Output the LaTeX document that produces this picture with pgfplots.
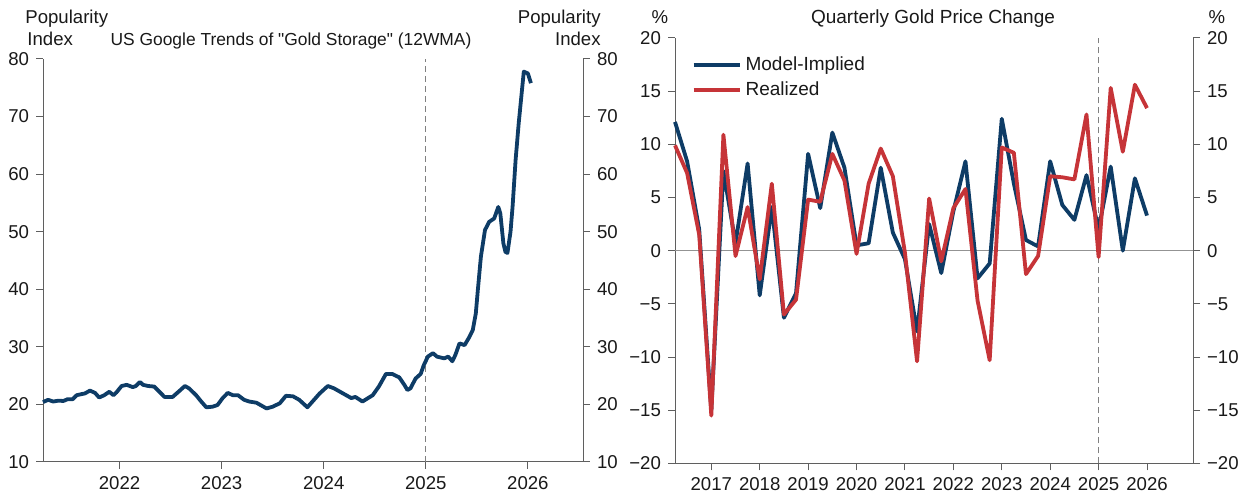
\documentclass[border=0pt]{standalone}
\usepackage{fontspec}
\setmainfont{Liberation Sans}
\usepackage{pgfplots}
\pgfplotsset{compat=1.18}
\definecolor{navy}{RGB}{14,60,102}
\definecolor{gred}{RGB}{198,52,56}
\definecolor{axgray}{RGB}{95,95,95}
\definecolor{txt}{RGB}{25,25,25}

\pgfplotstableread{
x y
2021.25 20.4
2021.30 20.8
2021.35 20.5
2021.40 20.65
2021.45 20.6
2021.49 20.9
2021.54 20.9
2021.58 21.6
2021.63 21.8
2021.66 21.9
2021.71 22.4
2021.76 22.0
2021.80 21.2
2021.85 21.6
2021.90 22.2
2021.94 21.6
2021.97 22.1
2022.02 23.2
2022.07 23.4
2022.13 23.0
2022.16 23.2
2022.20 23.9
2022.23 23.4
2022.28 23.2
2022.34 23.1
2022.39 22.2
2022.44 21.3
2022.52 21.3
2022.59 22.4
2022.64 23.2
2022.68 22.8
2022.75 21.6
2022.80 20.5
2022.85 19.5
2022.91 19.6
2022.96 19.9
2023.01 21.1
2023.06 22.0
2023.11 21.6
2023.16 21.6
2023.22 20.8
2023.27 20.5
2023.34 20.3
2023.44 19.3
2023.50 19.6
2023.57 20.2
2023.63 21.5
2023.70 21.4
2023.76 20.8
2023.84 19.5
2023.89 20.5
2023.96 21.9
2024.04 23.2
2024.10 22.8
2024.19 21.9
2024.27 21.1
2024.31 21.3
2024.38 20.5
2024.48 21.6
2024.54 23.1
2024.61 25.3
2024.67 25.3
2024.74 24.7
2024.79 23.4
2024.82 22.5
2024.85 22.8
2024.90 24.5
2024.95 25.3
2024.98 26.8
2025.02 28.3
2025.07 28.9
2025.11 28.3
2025.18 28.0
2025.22 28.3
2025.26 27.5
2025.29 28.6
2025.33 30.6
2025.38 30.3
2025.42 31.5
2025.46 32.9
2025.49 35.8
2025.51 39.9
2025.54 45.7
2025.58 50.3
2025.62 51.7
2025.67 52.3
2025.71 54.3
2025.73 53.2
2025.76 48.0
2025.78 46.5
2025.80 46.3
2025.83 50.0
2025.85 54.3
2025.88 62.5
2025.91 68.8
2025.96 77.8
2026.00 77.5
2026.03 75.8
}\trends

\pgfplotstableread{
x model real
2016.25 12.1 9.9
2016.50 8.4 7.3
2016.75 2.0 1.5
2017.00 -15.0 -15.5
2017.25 7.5 10.9
2017.50 0.7 -0.5
2017.75 8.2 4.1
2018.00 -4.2 -2.7
2018.25 4.1 6.3
2018.50 -6.3 -6.0
2018.75 -4.0 -4.6
2019.00 9.1 4.8
2019.25 4.0 4.6
2019.50 11.1 9.1
2019.75 7.8 6.6
2020.00 0.5 -0.3
2020.25 0.7 6.3
2020.50 7.8 9.6
2020.75 1.7 7.0
2021.00 -0.8 -0.2
2021.25 -7.6 -10.4
2021.50 2.5 4.9
2021.75 -2.1 -1.0
2022.00 3.7 4.0
2022.25 8.4 5.8
2022.50 -2.6 -4.7
2022.75 -1.2 -10.3
2023.00 12.4 9.7
2023.25 6.3 9.2
2023.50 1.0 -2.2
2023.75 0.4 -0.5
2024.00 8.4 7.0
2024.25 4.3 6.9
2024.50 2.9 6.7
2024.75 7.1 12.8
2025.00 2.0 -0.6
2025.25 7.9 15.3
2025.50 0.0 9.3
2025.75 6.8 15.6
2026.00 3.3 13.4
}\gold

\pgfplotsset{
  base/.style={
    scale only axis,
    anchor=south west,
    axis line style={-, axgray, line width=0.5pt},
    tick style={axgray, line width=0.5pt},
    tick align=outside,
    major tick length=3.5pt,
    tick label style={font=\fontsize{9.3}{11}\selectfont, text=txt},
    clip=false,
  }
}

\begin{document}
\begin{tikzpicture}
\path[use as bounding box] (0pt,0pt) rectangle (619.5pt,248pt);

% ---------- left panel ----------
\begin{axis}[base,
  at={(21.5pt,17pt)}, width=270pt, height=201.5pt,
  xmin=2021.25, xmax=2026.54, ymin=10, ymax=80,
  axis x line*=bottom, axis y line*=left,
  xtick={2022,2023,2024,2025,2026},
  xticklabels={2022,2023,2024,2025,2026},
  ytick={10,20,30,40,50,60,70,80},
  yticklabels={10,20,30,40,50,60,70,80},
]
\addplot[gray, densely dashed, line width=0.4pt, forget plot] coordinates {(2025,10) (2025,80)};
\addplot[navy, line width=1.9pt, line join=round] table[x=x,y=y] {\trends};
\end{axis}
\begin{axis}[base,
  at={(21.5pt,17pt)}, width=270pt, height=201.5pt,
  xmin=2021.25, xmax=2026.54, ymin=10, ymax=80,
  axis x line=none, axis y line*=right,
  ytick={10,20,30,40,50,60,70,80},
  yticklabels={10,20,30,40,50,60,70,80},
]
\end{axis}

% ---------- right panel ----------
\begin{axis}[base,
  at={(337.5pt,16.25pt)}, width=259pt, height=212.8pt,
  xmin=2016.25, xmax=2026.95, ymin=-20, ymax=20,
  axis x line*=bottom, axis y line*=left,
  xtick={2017,2018,2019,2020,2021,2022,2023,2024,2025,2026},
  xticklabels={2017,2018,2019,2020,2021,2022,2023,2024,2025,2026},
  ytick={-20,-15,-10,-5,0,5,10,15,20},
  yticklabels={−20,−15,−10,−5,0,5,10,15,20},
  legend style={at={(axis description cs:0.02,0.975)}, anchor=north west,
    draw=none, fill=none, font=\fontsize{9.5}{11}\selectfont, text=txt,
    row sep=0pt},
  legend cell align=left,
  legend image code/.code={\draw[#1, line width=1.9pt] (-1pt,0pt) -- (22pt,0pt);},
]
\addplot[gray!85, line width=0.7pt, forget plot] coordinates {(2016.25,0) (2026.95,0)};
\addplot[gray, densely dashed, line width=0.4pt, forget plot] coordinates {(2025,-20) (2025,20)};
\addplot[navy, line width=1.9pt, line join=round] table[x=x,y=model] {\gold};
\addlegendentry{Model-Implied}
\addplot[gred, line width=1.9pt, line join=round] table[x=x,y=real] {\gold};
\addlegendentry{Realized}
\end{axis}
\begin{axis}[base,
  at={(337.5pt,16.25pt)}, width=259pt, height=212.8pt,
  xmin=2016.25, xmax=2026.95, ymin=-20, ymax=20,
  axis x line=none, axis y line*=right,
  ytick={-20,-15,-10,-5,0,5,10,15,20},
  yticklabels={−20,−15,−10,−5,0,5,10,15,20},
]
\end{axis}

% ---------- titles ----------
\begin{scope}[every node/.style={font=\fontsize{9.3}{11}\selectfont, text=txt, inner sep=0pt}]
\node[anchor=base west] at (12.5pt,236pt) {Popularity};
\node[anchor=base west] at (13.5pt,225pt) {Index};
\node[anchor=base, font=\fontsize{8.7}{11}\selectfont] at (145.5pt,225pt) {US Google Trends of \textquotedbl Gold Storage\textquotedbl\ (12WMA)};
\node[anchor=base east] at (300.5pt,236pt) {Popularity};
\node[anchor=base east] at (300.5pt,225pt) {Index};
\node[anchor=base] at (330pt,236pt) {\%};
\node[anchor=base, font=\fontsize{9.5}{11}\selectfont] at (466.5pt,236pt) {Quarterly Gold Price Change};
\node[anchor=base] at (608.5pt,236pt) {\%};
\end{scope}
\end{tikzpicture}
\end{document}
